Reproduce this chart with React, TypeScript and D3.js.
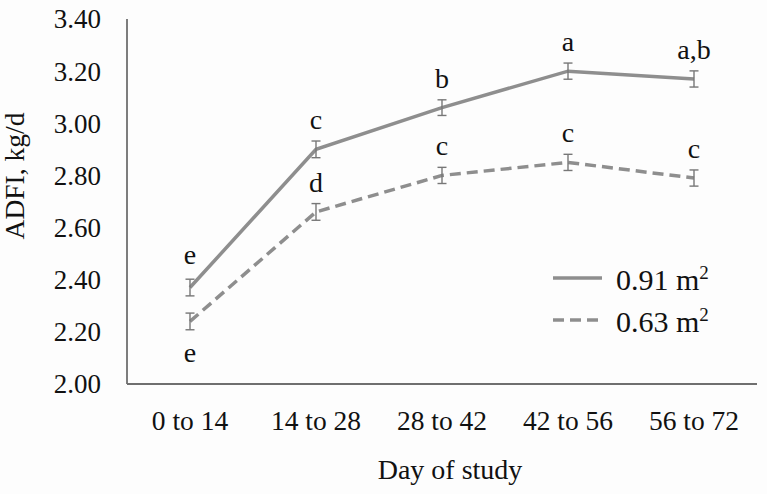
import React from "react";
import * as d3 from "d3";

const categories = ["0 to 14", "14 to 28", "28 to 42", "42 to 56", "56 to 72"];
const seriesHigh = [2.37, 2.9, 3.06, 3.2, 3.17];
const seriesLow = [2.24, 2.66, 2.8, 2.85, 2.79];
const errHigh = [0.032, 0.032, 0.03, 0.031, 0.031];
const errLow = [0.032, 0.032, 0.031, 0.031, 0.031];
const lettersHigh = ["e", "c", "b", "a", "a,b"];
const lettersLow = ["e", "d", "c", "c", "c"];
const yTicks = [2.0, 2.2, 2.4, 2.6, 2.8, 3.0, 3.2, 3.4];
const seriesNames = ["0.91 m", "0.63 m"];

export default function App() {
  const W = 767, H = 494;
  const left = 127, right = 757, top = 19, bottom = 384;
  const x = d3.scaleBand<string>().domain(categories).range([left, right]);
  const y = d3.scaleLinear().domain([2.0, 3.4]).range([bottom, top]);
  const cx = (c: string) => (x(c) as number) + x.bandwidth() / 2;
  const line = d3.line<number>().x((_, i) => cx(categories[i])).y((v) => y(v));
  const font = "'Liberation Serif', 'Times New Roman', serif";
  const col = "#8e8e8e";
  const errCol = "#777777";

  const errBars = (vals: number[], errs: number[], key: string) =>
    vals.map((v, i) => {
      const xx = cx(categories[i]);
      const y1 = y(v + errs[i]);
      const y2 = y(v - errs[i]);
      return (
        <g key={key + i} stroke={errCol} strokeWidth={1.4}>
          <line x1={xx} x2={xx} y1={y1} y2={y2} />
          <line x1={xx - 4.5} x2={xx + 4.5} y1={y1} y2={y1} />
          <line x1={xx - 4.5} x2={xx + 4.5} y1={y2} y2={y2} />
        </g>
      );
    });

  return (
    <svg width={W} height={H} style={{ position: "absolute", left: 0, top: 0 }} fontFamily={font}>
      <rect width={W} height={H} fill="#fdfdfd" />
      {/* axes */}
      <line x1={left} x2={left} y1={top} y2={bottom} stroke="#6f6f6f" strokeWidth={1.8} />
      <line x1={left} x2={right} y1={bottom} y2={bottom} stroke="#6f6f6f" strokeWidth={1.8} />
      {yTicks.map((t) => (
        <text key={t} x={101} y={y(t)} dy="0.35em" textAnchor="end" fontSize={27} fill="#111">
          {t.toFixed(2)}
        </text>
      ))}
      {categories.map((c) => (
        <text key={c} x={cx(c)} y={420} dy="0.35em" textAnchor="middle" fontSize={27.5} fill="#111">
          {c}
        </text>
      ))}
      <text x={450} y={469} dy="0.35em" textAnchor="middle" fontSize={28} fill="#111">Day of study</text>
      <text
        transform={`translate(14.5,${176}) rotate(-90)`}
        textAnchor="middle"
        dy="0.35em"
        fontSize={27.5}
        fill="#111"
      >
        ADFI, kg/d
      </text>
      {/* lines */}
      <path d={line(seriesHigh) || ""} fill="none" stroke={col} strokeWidth={3.5} />
      <path d={line(seriesLow) || ""} fill="none" stroke={col} strokeWidth={3.5} strokeDasharray="11,6" />
      {errBars(seriesHigh, errHigh, "h")}
      {errBars(seriesLow, errLow, "l")}
      {/* letters */}
      {lettersHigh.map((l, i) => (
        <text key={"lh" + i} x={cx(categories[i])} y={y(seriesHigh[i]) - (i === 0 ? 24 : 20)} textAnchor="middle" fontSize={28} fill="#111">
          {l}
        </text>
      ))}
      {lettersLow.map((l, i) => {
        const below = i === 0;
        return (
          <text
            key={"ll" + i}
            x={cx(categories[i])}
            y={below ? y(seriesLow[i]) + 41 : y(seriesLow[i]) - 20}
            textAnchor="middle"
            fontSize={28}
            fill="#111"
          >
            {l}
          </text>
        );
      })}
      {/* legend */}
      <line x1={553} x2={602} y1={278} y2={278} stroke={col} strokeWidth={3.5} />
      <line x1={553} x2={600} y1={320} y2={320} stroke={col} strokeWidth={3.5} strokeDasharray="11,6" />
      {seriesNames.map((n, i) => (
        <text key={n} x={616} y={279 + i * 42} dy="0.35em" fontSize={30} fill="#111">
          {n}
          <tspan fontSize={19} dy="-11">2</tspan>
        </text>
      ))}
    </svg>
  );
}
